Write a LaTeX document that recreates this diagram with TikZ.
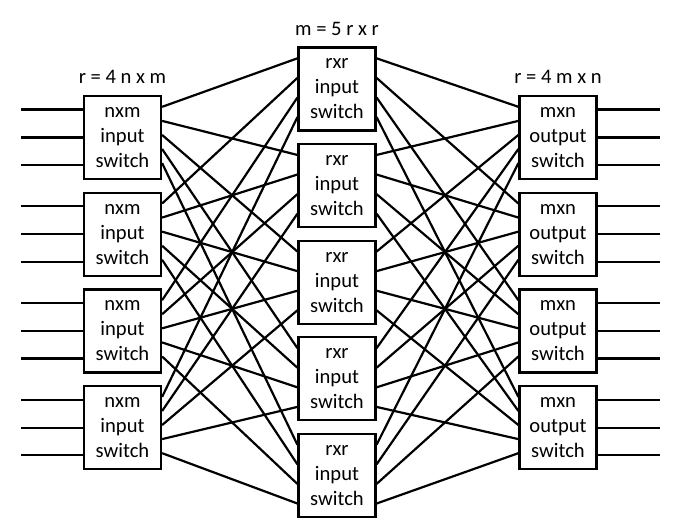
\documentclass[tikz,border=0pt]{standalone}
\usepackage{fontspec}
\setmainfont{Carlito}
\usepackage{tikz}
\usetikzlibrary{positioning,calc}

\tikzset{
  sw/.style={draw, line width=1.1pt, minimum width=38.5pt, minimum height=41.5pt,
    inner sep=0pt, align=center, font=\fontsize{10.3}{12.5}\selectfont},
  wire/.style={line width=1.1pt},
  lbl/.style={font=\fontsize{10.3}{12}\selectfont}
}

\begin{document}
\begin{tikzpicture}[x=0.5pt,y=-0.5pt]
\useasboundingbox (0,0) rectangle (676,531);

% Input stage
\node[sw] (in1) at (122.5,137.5) {nxm\\input\\switch};
\node[sw] (in2) at (122.5,234.2) {nxm\\input\\switch};
\node[sw] (in3) at (122.5,330.9) {nxm\\input\\switch};
\node[sw] (in4) at (122.5,427.6) {nxm\\input\\switch};

% Middle stage
\node[sw] (mid1) at (337,89) {rxr\\input\\switch};
\node[sw] (mid2) at (337,185.6) {rxr\\input\\switch};
\node[sw] (mid3) at (337,282.2) {rxr\\input\\switch};
\node[sw] (mid4) at (337,378.8) {rxr\\input\\switch};
\node[sw] (mid5) at (337,475.4) {rxr\\input\\switch};

% Output stage
\node[sw] (out1) at (558,137.5) {mxn\\output\\switch};
\node[sw] (out2) at (558,234.2) {mxn\\output\\switch};
\node[sw] (out3) at (558,330.9) {mxn\\output\\switch};
\node[sw] (out4) at (558,427.6) {mxn\\output\\switch};

% Stage labels
\node[lbl, above=2pt of in1] (lblin) {r = 4 n x m};
\node[lbl, above=2pt of mid1] (lblmid) {m = 5 r x r};
\node[lbl, above=2pt of out1] (lblout) {r = 4 m x n};

% Ports
\foreach \i in {1,...,4} {
  \foreach \s in {14pt,0pt,-13.75pt} {
    \draw[wire] ([yshift=\s]in\i.west) -- ++(-62,0);
    \draw[wire] ([yshift=\s]out\i.east) -- ++(62,0);
  }
}

% Input stage to middle stage
\foreach \i [evaluate=\i as \fb using 0.14+0.23*(\i-1)] in {1,...,4} {
  \foreach \j [evaluate=\j as \fa using 0.14+0.165*(\j-1)] in {1,...,5} {
    \draw[wire] ($(in\i.north east)!\fa!(in\i.south east)$) -- ($(mid\j.north west)!\fb!(mid\j.south west)$);
    \draw[wire] ($(mid\j.north east)!\fb!(mid\j.south east)$) -- ($(out\i.north west)!\fa!(out\i.south west)$);
  }
}
\end{tikzpicture}
\end{document}
